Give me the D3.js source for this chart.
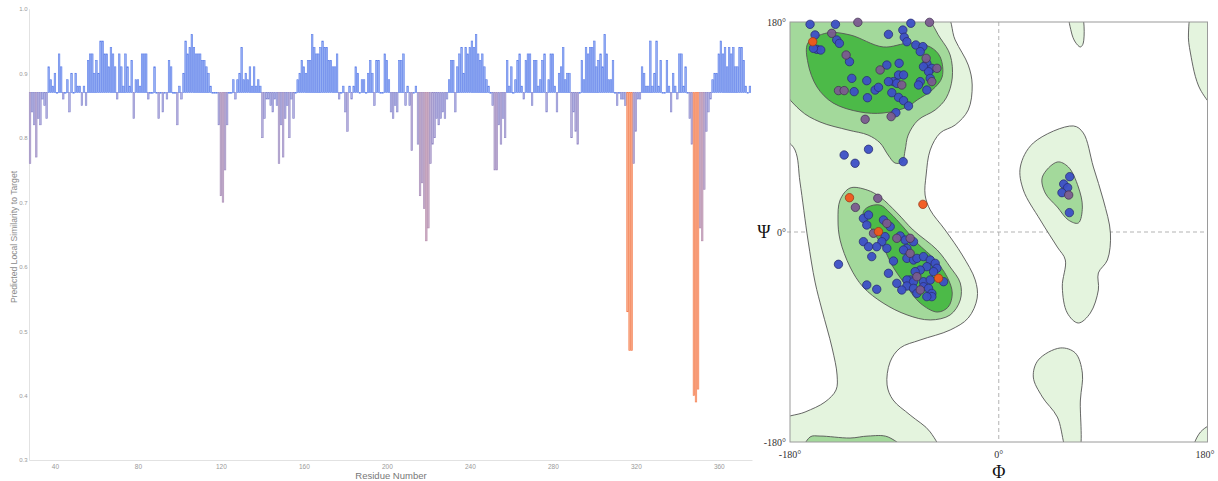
<!DOCTYPE html>
<html>
<head>
<meta charset="utf-8">
<script src="https://cdn.jsdelivr.net/npm/d3@7"></script>
<style>
  html, body { margin: 0; padding: 0; background: #fff; }
  svg { display: block; }
</style>
</head>
<body>
<svg id="chart" width="1218" height="481"></svg>
<script>
// ---------- Local similarity per residue ----------
const firstResidue = 28;
const similarity = [
  0.76,0.84,0.82,0.77,0.83,0.82,0.86,0.85,0.83,0.91,
  0.89,0.88,0.90,0.87,0.93,0.91,0.86,0.87,0.89,0.84,
  0.90,0.87,0.90,0.88,0.88,0.85,0.88,0.85,0.92,0.93,
  0.93,0.90,0.92,0.90,0.95,0.95,0.93,0.93,0.91,0.94,
  0.93,0.91,0.86,0.93,0.91,0.88,0.93,0.91,0.88,0.92,
  0.83,0.89,0.89,0.88,0.93,0.93,0.93,0.86,0.87,0.87,
  0.91,0.87,0.83,0.87,0.84,0.87,0.86,0.92,0.91,0.87,
  0.87,0.82,0.88,0.86,0.90,0.95,0.93,0.94,0.96,0.94,
  0.93,0.93,0.93,0.92,0.92,0.91,0.90,0.88,0.87,0.87,
  0.87,0.82,0.71,0.70,0.75,0.82,0.87,0.87,0.89,0.86,
  0.89,0.90,0.94,0.89,0.90,0.89,0.91,0.88,0.91,0.88,
  0.89,0.88,0.80,0.83,0.86,0.86,0.85,0.84,0.86,0.85,
  0.76,0.82,0.77,0.83,0.85,0.80,0.86,0.83,0.87,0.89,
  0.90,0.92,0.91,0.90,0.92,0.92,0.96,0.94,0.93,0.93,
  0.94,0.95,0.94,0.94,0.92,0.92,0.91,0.91,0.93,0.86,
  0.87,0.88,0.84,0.81,0.88,0.86,0.88,0.91,0.90,0.87,
  0.89,0.89,0.87,0.90,0.92,0.90,0.85,0.92,0.92,0.87,
  0.87,0.93,0.92,0.89,0.84,0.83,0.85,0.84,0.92,0.92,
  0.93,0.85,0.88,0.85,0.78,0.87,0.88,0.79,0.71,0.73,
  0.69,0.64,0.66,0.76,0.79,0.80,0.83,0.82,0.83,0.84,
  0.83,0.86,0.89,0.92,0.92,0.84,0.91,0.93,0.94,0.90,
  0.94,0.93,0.94,0.95,0.94,0.96,0.93,0.92,0.93,0.91,
  0.89,0.88,0.87,0.85,0.75,0.75,0.82,0.79,0.83,0.80,
  0.92,0.88,0.91,0.87,0.89,0.92,0.93,0.88,0.86,0.92,
  0.93,0.93,0.85,0.92,0.92,0.88,0.89,0.92,0.93,0.84,
  0.89,0.93,0.93,0.88,0.84,0.90,0.91,0.94,0.89,0.90,
  0.90,0.80,0.84,0.81,0.79,0.87,0.92,0.89,0.94,0.93,
  0.94,0.94,0.95,0.91,0.92,0.93,0.91,0.96,0.93,0.89,
  0.89,0.92,0.87,0.85,0.87,0.86,0.86,0.85,0.53,0.47,
  0.47,0.76,0.81,0.86,0.86,0.91,0.90,0.88,0.88,0.95,
  0.88,0.90,0.95,0.88,0.92,0.87,0.87,0.92,0.88,0.84,
  0.90,0.88,0.86,0.93,0.93,0.88,0.91,0.87,0.83,0.79,
  0.40,0.39,0.41,0.66,0.64,0.72,0.81,0.84,0.86,0.89,
  0.90,0.90,0.93,0.95,0.93,0.94,0.91,0.94,0.93,0.94,
  0.91,0.91,0.94,0.94,0.92,0.88,0.87,0.88
];
const baselineValue = 0.87;
const yTickValues = [0.3, 0.4, 0.5, 0.6, 0.7, 0.8, 0.9, 1.0];
const xTickValues = [40, 80, 120, 160, 200, 240, 280, 320, 360];

// ---------- Ramachandran: residue torsion angles (phi, psi) ----------
const favoredPoints = [
  [-162.7,178],[-140.8,178],[-75.8,178.9],[-158.4,168.9],[-139.7,164.6],[-137.4,161.7],
  [-156.9,156.6],[-153.5,156],[-159.8,157.4],[-95.1,169.4],[-82.7,173.1],[-81.5,166.9],
  [-79.2,163.1],[-71.5,160.3],[-65.4,158.9],[-67.7,154.6],[-62,144.6],[-64.9,141.7],
  [-57.7,140.3],[-60.5,137.4],[-59.1,131.7],[-67.7,128.9],[-69.2,126],[-62,121.7],
  [-128.7,146],[-96.5,143.1],[-85.9,144.6],[-86.4,134.6],[-82.1,134.6],[-90.8,128.9],
  [-95.1,128.9],[-87.9,127.4],[-126.7,131.7],[-113.8,129.7],[-124.7,120.3],[-113.2,115.1],
  [-106.6,121.7],[-103.7,124],[-92.2,119.4],[-86.4,115.4],[-82.1,112.6],[-77.8,108],
  [-88.7,102.3],[-133.3,66],[-123.9,58.9],[-112.3,70.9],[-82.4,60.3],
  [-116.7,11.7],[-112.3,14.6],[-113.8,6],[-99.4,10.3],[-93.6,4.6],[-98,-4],[-100.8,-8.3],
  [-105.2,-12.6],[-96.5,-14],[-116.7,-8.3],[-112.3,-12.6],[-109.5,-21.1],[-138.2,-27.7],
  [-113.8,-45.4],[-105.2,-49.1],[-95.1,-35.4],[-90.8,-24.9],[-87.9,-44],[-85,-3.4],
  [-80.7,-6.9],[-73.5,-8.3],[-79.2,-14],[-82.1,-15.4],[-79.2,-22.6],[-73.5,-24],
  [-70.6,-22.6],[-64.9,-21.1],[-59.1,-24],[-54.8,-26.9],[-53.3,-31.1],[-56.2,-34],
  [-62,-29.7],[-67.7,-32.6],[-72.1,-34],[-76.4,-41.1],[-79.2,-41.1],[-73.5,-42.6],
  [-64.9,-42.6],[-59.1,-41.1],[-47.6,-42.6],[-79.2,-46.3],[-83.6,-49.7],[-73.5,-48.3],
  [-64.9,-46.9],[-60.5,-48.3],[-57.7,-52.6],[-57.7,-55.4],[-62,-55.4],[-70.6,-52.6],
  [61.2,47.4],[56,41.1],[59.4,38],[54.5,33.7],[60.9,16.6]
];
const allowedPoints = [
  [-121.5,179.7],[-59.7,179.7],[-144,170.3],[-62.6,148.9],[-53.3,140.3],[-57.7,128.9],
  [-131.6,151.7],[-102.3,138.9],[-83.6,126],[-138.2,121.2],[-133.3,121.2],[-92.8,98.9],
  [-115.2,96.6],[-104.3,28.9],[-123.6,21.1],[-108,-1.1],[-96.5,7.4],[-76.4,-5.4],
  [-76.4,-18.3],[-70.6,-38.3],[-67.7,-49.7],[-87.9,-5.4],[60.3,31.7]
];
const outlierPoints = [
  [-160.4,163.1],[-128.7,29.4],[-65.4,23.7],[-103.7,0.3],[-51.9,-39.7]
];

// ---------- Ramachandran: density contour outlines (phi, psi) ----------
const contourLight = [
  [[-190,190],[-47.9,190],[-37.6,164.6],[-26.3,143.1],[-22.9,126],[-26.3,104.6],[-37.6,91.7],
   [-50.5,84.9],[-59.1,70.3],[-62.6,48.9],[-63.5,31.7],[-59.1,18.9],[-46.2,1.7],[-31.5,-19.7],
   [-20.3,-41.1],[-18.6,-56.6],[-26.3,-73.7],[-41.9,-84],[-67.8,-92.6],[-85,-99.4],[-93.7,-111.4],
   [-96.3,-131.1],[-91.1,-144],[-76.4,-156.9],[-59.1,-171.4],[-52,-190],[-190,-190],[-190,-162.8],
   [-167,-154.3],[-149.8,-145.7],[-140.3,-135.4],[-139.4,-122.6],[-143.7,-99.4],[-152.4,-66.9],
   [-158.4,-42.9],[-164.5,-6.9],[-171.4,42.9],[-175.7,70.3],[-190,88]],
  [[18.6,55.7],[29.8,76.3],[64.3,90.9],[72.9,84.9],[81.6,55.7],[90.2,27.4],[96.3,-0.9],[93.7,-24],
   [85.9,-35.1],[85.9,-49.7],[79,-69.4],[68.6,-78],[59.1,-69.4],[54.8,-47.1],[57.4,-24],[50.5,-12.9],
   [35.8,10.3],[21.2,36]],
  [[60.9,190],[70.4,190],[72.9,162],[70.4,158.6],[66,162.8],[62.6,171.4]],
  [[29.8,-124.3],[34.1,-109.7],[53.1,-99.4],[66,-103.7],[72.1,-120.9],[70.4,-144],[68.6,-190],
   [60,-190],[50.5,-158.6],[37.6,-141.4]],
  [[167.9,190],[190,190],[190,104.6],[174,121.7],[165.3,153.4],[163.6,170.6]],
  [[190,-163.7],[190,-190],[167.9,-190],[174,-171.4]]
];
const contourMedium = [
  [[-190,190],[-69.5,190],[-50.5,166.3],[-41.9,151.7],[-40.1,132],[-45.3,114.9],[-54.8,104.6],
   [-69.5,96],[-78.1,83.1],[-80.7,70.3],[-83.3,60],[-89.4,59.1],[-95.4,66],[-102.3,76.3],
   [-112.7,83.1],[-129.9,87.4],[-154.1,94.3],[-171.4,104.6],[-190,130.3]],
  [[-128.2,37.7],[-113.5,36],[-102.3,30],[-87.6,16.3],[-73.8,1.7],[-53.1,-15.4],[-41.9,-30],
   [-33.2,-43.7],[-33.2,-58.3],[-41.9,-71.1],[-59.1,-75.4],[-79,-71.1],[-99.7,-60.9],[-117,-47.1],
   [-128.2,-30],[-136.8,-6.9],[-138.6,10.3],[-136.8,27.4]],
  [[37.6,47.1],[50.5,60],[60,55.7],[68.6,38.6],[72.1,21.4],[68.6,7.7],[60,10.3],[50.5,21.4],[40.1,33.4]],
  [[-168.7,-190],[-162.7,-175.7],[-154.1,-174.9],[-128.2,-176.6],[-112.7,-174.9],[-95.4,-175.7],[-79,-190]]
];
const contourDark = [
  [[-164.5,162],[-148.1,170.6],[-128.2,168.9],[-99.7,158.6],[-76.4,162],[-59.1,158.6],[-50.5,150],
   [-48.8,132.9],[-57.4,121.7],[-70.4,113.1],[-79,107.1],[-99.7,102],[-119.6,102.9],[-142.9,110.6],
   [-156.7,124.3],[-164.5,144.9]],
  [[-112.7,21.4],[-102.3,23.1],[-93.7,16.3],[-82.4,4.3],[-70.4,-9.4],[-54.8,-24],[-44.5,-38.6],
   [-40.1,-52.3],[-43.6,-64.3],[-53.1,-68.6],[-67.8,-60.9],[-79,-47.1],[-91.1,-30],[-99.7,-12.9],
   [-110.9,4.3],[-117,16.3]]
];
const angleTicks = [-180, 0, 180];

// ================= Drawing =================
const svg = d3.select("#chart");
svg.append("rect").attr("width", 1218).attr("height", 481).attr("fill", "#fff");

// ---- Bar chart of local similarity ----
const xB = d3.scaleLinear().domain([27.5, 376]).range([29, 752]);
const yB = d3.scaleLinear().domain([0.3, 1.0]).range([460, 8.8]);

function barFill(v) {
  if (v < 0.6) return "#f89c74";
  if (v >= baselineValue) return "#86a2f1";
  const t = Math.max(0, Math.min(1, (v - 0.64) / (0.86 - 0.64)));
  return d3.interpolateRgb("#c6a3bd", "#a3a6e0")(t);
}
function barStroke(v) {
  if (v < 0.6) return "#f47f52";
  if (v >= baselineValue) return "#5f80ea";
  const t = Math.max(0, Math.min(1, (v - 0.64) / (0.86 - 0.64)));
  return d3.interpolateRgb("#b58aa8", "#8488d2")(t);
}

const gBar = svg.append("g");
const sans = "Liberation Sans, Arial, sans-serif";

gBar.append("text").attr("transform", "translate(17,237) rotate(-90)")
  .attr("text-anchor", "middle")
  .attr("font-family", sans).attr("font-size", 8.6)
  .attr("fill", "#8a8a8a").text("Predicted Local Similarity to Target");

// axes
const yAxis = d3.axisLeft(yB).tickValues(yTickValues).tickSize(0).tickPadding(1.5)
  .tickFormat(d3.format(".1f"));
const gy = gBar.append("g").attr("transform", "translate(29,0)").call(yAxis);
gy.select(".domain").attr("stroke", "#e2e2e2");
gy.selectAll("text").attr("font-family", sans)
  .attr("font-size", 6).attr("fill", "#9a9a9a");

const xAxis = d3.axisBottom(xB).tickValues(xTickValues).tickSize(0).tickPadding(4);
const gx = gBar.append("g").attr("transform", "translate(0,460)").call(xAxis);
gx.select(".domain").attr("stroke", "#e2e2e2");
gx.selectAll("text").attr("font-family", sans)
  .attr("font-size", 6.5).attr("fill", "#999");

gBar.append("text").attr("x", 391).attr("y", 479).attr("text-anchor", "middle")
  .attr("font-family", sans).attr("font-size", 9.5)
  .attr("fill", "#777").text("Residue Number");

// bars
const y0 = yB(baselineValue);
gBar.append("g").selectAll("rect").data(similarity).join("rect")
  .attr("x", (d, i) => xB(firstResidue + i - 0.5) + 0.25)
  .attr("width", (d, i) => xB(firstResidue + i + 0.5) - xB(firstResidue + i - 0.5) - 0.5)
  .attr("y", d => Math.min(yB(d), y0))
  .attr("height", d => Math.max(0.6, Math.abs(yB(d) - y0)))
  .attr("fill", d => barFill(d))
  .attr("fill-opacity", 0.85)
  .attr("stroke", d => barStroke(d))
  .attr("stroke-width", 0.6);

// ---- Ramachandran plot ----
const xR = d3.scaleLinear().domain([-180, 180]).range([790, 1207.5]);
const yR = d3.scaleLinear().domain([-180, 180]).range([442, 22]);

const defs = svg.append("defs");
defs.append("clipPath").attr("id", "ramaClip")
  .append("rect").attr("x", 790).attr("y", 22).attr("width", 417.5).attr("height", 420);

const gR = svg.append("g");
// dashed zero lines (beneath the regions)
gR.append("line").attr("x1", xR(0)).attr("x2", xR(0)).attr("y1", yR(180)).attr("y2", yR(-180))
  .attr("stroke", "#aaa").attr("stroke-dasharray", "4,3").attr("stroke-width", 0.9);
gR.append("line").attr("x1", 787).attr("x2", xR(180)).attr("y1", yR(0)).attr("y2", yR(0))
  .attr("stroke", "#aaa").attr("stroke-dasharray", "4,3").attr("stroke-width", 0.9);

const regionLine = d3.line().x(d => xR(d[0])).y(d => yR(d[1]))
  .curve(d3.curveCatmullRomClosed.alpha(0.5));
const gC = gR.append("g").attr("clip-path", "url(#ramaClip)");
const levels = [
  { polys: contourLight, fill: "#e4f4de" },
  { polys: contourMedium, fill: "#a3d99b" },
  { polys: contourDark, fill: "#4cba48" }
];
levels.forEach(l => {
  gC.append("g").selectAll("path").data(l.polys).join("path")
    .attr("d", regionLine)
    .attr("fill", l.fill)
    .attr("stroke", "#555")
    .attr("stroke-width", 0.9);
});

// frame
gR.append("rect").attr("x", 790).attr("y", 22).attr("width", 417.5).attr("height", 420)
  .attr("fill", "none").attr("stroke", "#9a9a9a").attr("stroke-width", 1);

// residues
const pointSets = [
  { pts: favoredPoints, fill: "#3c4fc6", stroke: "#2b2f72" },
  { pts: allowedPoints, fill: "#7a5b8f", stroke: "#453554" },
  { pts: outlierPoints, fill: "#f2561c", stroke: "#9a3a1a" }
];
pointSets.forEach(s => {
  gR.append("g").selectAll("circle").data(s.pts).join("circle")
    .attr("cx", d => xR(d[0])).attr("cy", d => yR(d[1])).attr("r", 4.2)
    .attr("fill", s.fill).attr("stroke", s.stroke).attr("stroke-width", 0.8)
    .attr("fill-opacity", 0.95);
});

// labels
const serif = "Liberation Serif, Times New Roman, serif";
const yLab = [ { v: 180, t: "180°" }, { v: 0, t: "0°" }, { v: -180, t: "-180°" } ];
gR.append("g").selectAll("text").data(yLab).join("text")
  .attr("x", 786).attr("y", d => yR(d.v) + 3.5).attr("text-anchor", "end")
  .attr("font-family", serif).attr("font-size", 10).attr("fill", "#333")
  .text(d => d.t);
gR.append("text").attr("x", 764).attr("y", yR(0) + 6).attr("text-anchor", "middle")
  .attr("font-family", serif).attr("font-size", 18).attr("fill", "#111").text("Ψ");
gR.append("g").selectAll("text").data(angleTicks).join("text")
  .attr("x", d => d === 180 ? 1205 : xR(d)).attr("y", 458).attr("text-anchor", "middle")
  .attr("font-family", serif).attr("font-size", 10).attr("fill", "#333")
  .text(d => d + "°");
gR.append("text").attr("x", xR(0)).attr("y", 478).attr("text-anchor", "middle")
  .attr("font-family", serif).attr("font-size", 18).attr("fill", "#111").text("Φ");
</script>
</body>
</html>
